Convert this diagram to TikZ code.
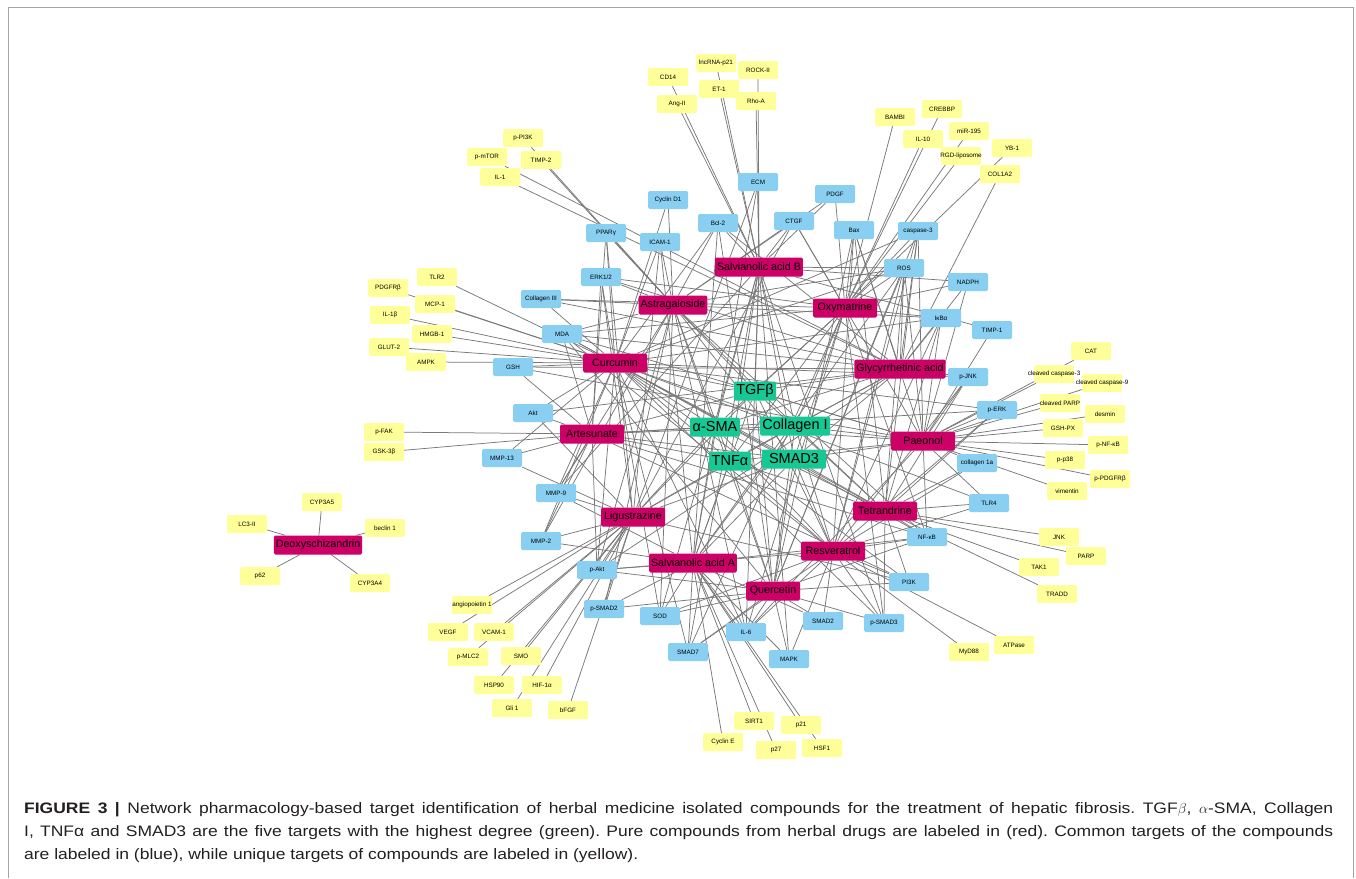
\documentclass[tikz,border=0pt]{standalone}
\usepackage{fontspec}
\setmainfont{Liberation Sans}
\newfontfamily\capfont{Liberation Sans}[FakeStretch=1.15]
\usetikzlibrary{backgrounds}

\definecolor{drugred}{RGB}{204,0,102}
\definecolor{hubgreen}{RGB}{22,200,148}
\definecolor{comblue}{RGB}{137,207,242}
\definecolor{uniyellow}{RGB}{255,255,153}
\definecolor{linkgray}{RGB}{120,120,120}
\definecolor{framegray}{RGB}{165,165,165}
\definecolor{captext}{RGB}{35,31,32}

\tikzset{
  tbox/.style={rounded corners=1.5pt, minimum width=40pt, minimum height=18pt, inner sep=1pt, font=\fontsize{6.3}{7}\selectfont},
  uni/.style={tbox, fill=uniyellow},
  com/.style={tbox, fill=comblue},
  drug/.style={rounded corners=1.5pt, fill=drugred, minimum width=64pt, minimum height=19pt, inner xsep=2pt, inner ysep=0pt, font=\fontsize{10.7}{12}\selectfont},
  hub/.style={rounded corners=1.5pt, fill=hubgreen, minimum height=19pt, inner xsep=2.5pt, inner ysep=0pt, font=\fontsize{14.5}{16}\selectfont},
  link/.style={color=linkgray, line width=0.75pt},
  captxt/.style={anchor=base west, inner sep=0pt, text=captext, font=\capfont\fontsize{15.2}{18}\selectfont\frenchspacing},
}

\begin{document}
\begin{tikzpicture}[x=1pt, y=-1pt]

		\useasboundingbox (0,0) rectangle (1356,878);

		% Ramka
		\draw[framegray, line width=1pt] (8,878) -- (8,7) -- (1353,7) -- (1353,878);

		% Zwiazki (czerwone)
		\node[drug] (salB) at (759,267) {Salvianolic acid B};
		\node[drug] (astr) at (673,305) {Astragaloside};
		\node[drug] (oxym) at (845,308) {Oxymatrine};
		\node[drug] (curc) at (615,363) {Curcumin};
		\node[drug] (glyc) at (900,369) {Glycyrrhetinic acid};
		\node[drug] (arte) at (592,434) {Artesunate};
		\node[drug] (paeo) at (923,441) {Paeonol};
		\node[drug] (tetr) at (885,511) {Tetrandrine};
		\node[drug] (ligu) at (633,517) {Ligustrazine};
		\node[drug] (resv) at (833,551) {Resveratrol};
		\node[drug] (salA) at (693,563) {Salvianolic acid A};
		\node[drug, minimum width=54pt] (quer) at (773,591) {Quercetin};
		\node[drug] (deox) at (318,545) {Deoxyschizandrin};

		% Cele o najwyzszym stopniu (zielone)
		\node[hub] (tgfb) at (755,391) {TGFβ};
		\node[hub] (asma) at (715,427) {α-SMA};
		\node[hub] (col1) at (795,426) {Collagen I};
		\node[hub] (tnfa) at (730,461) {TNFα};
		\node[hub, minimum width=64pt] (smad3) at (794,459) {SMAD3};

		% Wspolne cele (niebieskie)
		\node[com] (ecm) at (758,182) {ECM};
		\node[com] (cycd1) at (668,200) {Cyclin D1};
		\node[com] (pdgf) at (835,194) {PDGF};
		\node[com] (bcl2) at (718,223) {Bcl-2};
		\node[com] (ctgf) at (794,221) {CTGF};
		\node[com] (ppar) at (606,233) {PPARγ};
		\node[com] (icam) at (660,242) {ICAM-1};
		\node[com] (bax) at (854,230) {Bax};
		\node[com] (casp3) at (918,231) {caspase-3};
		\node[com] (ros) at (904,268) {ROS};
		\node[com] (erk) at (601,277) {ERK1/2};
		\node[com] (nadph) at (968,282) {NADPH};
		\node[com] (col3) at (541,299) {\makebox[38pt]{Collagen III}};
		\node[com] (mda) at (562,334) {MDA};
		\node[com] (ikba) at (941,318) {IκBα};
		\node[com] (timp1) at (992,330) {TIMP-1};
		\node[com] (gsh) at (513,367) {GSH};
		\node[com] (pjnk) at (968,377) {p-JNK};
		\node[com] (akt) at (533,413) {Akt};
		\node[com] (perk) at (997,410) {p-ERK};
		\node[com] (mmp13) at (502,458) {MMP-13};
		\node[com] (col1a) at (977,463) {collagen 1a};
		\node[com] (mmp9) at (556,493) {MMP-9};
		\node[com] (tlr4) at (989,503) {TLR4};
		\node[com] (mmp2) at (541,541) {MMP-2};
		\node[com] (nfkb) at (927,537) {NF-κB};
		\node[com] (pakt) at (597,570) {p-Akt};
		\node[com] (pi3k) at (909,582) {PI3K};
		\node[com] (psmad2) at (604,609) {p-SMAD2};
		\node[com] (sod) at (660,616) {SOD};
		\node[com] (smad2) at (823,621) {SMAD2};
		\node[com] (psmad3) at (884,623) {p-SMAD3};
		\node[com] (il6) at (746,632) {IL-6};
		\node[com] (smad7) at (688,652) {SMAD7};
		\node[com] (mapk) at (789,659) {MAPK};

		% Unikalne cele (zolte) - gora
		\node[uni] (cd14) at (668,77) {CD14};
		\node[uni] (lnc) at (716,63) {lncRNA-p21};
		\node[uni] (rock) at (758,70) {ROCK-II};
		\node[uni] (et1) at (719,89) {ET-1};
		\node[uni] (angii) at (677,104) {Ang-II};
		\node[uni] (rhoa) at (756,101) {Rho-A};
		\node[uni] (bambi) at (895,117) {BAMBI};
		\node[uni] (crebbp) at (942,109) {CREBBP};
		\node[uni] (il10) at (923,139) {IL-10};
		\node[uni] (mir) at (969,131) {miR-195};
		\node[uni] (rgd) at (961,156) {\makebox[38pt]{RGD-liposome}};
		\node[uni] (yb1) at (1012,148) {YB-1};
		\node[uni] (col1a2) at (1000,174) {COL1A2};
		\node[uni] (ppi3k) at (523,138) {p-PI3K};
		\node[uni] (pmtor) at (487,157) {p-mTOR};
		\node[uni] (timp2) at (541,160) {TIMP-2};
		\node[uni] (il1) at (500,177) {IL-1};

		% Unikalne cele - lewa strona
		\node[uni] (tlr2) at (437,277) {TLR2};
		\node[uni] (pdgfrb) at (388,288) {PDGFRβ};
		\node[uni] (mcp) at (435,304) {MCP-1};
		\node[uni] (il1b) at (390,315) {IL-1β};
		\node[uni] (hmgb) at (432,334) {HMGB-1};
		\node[uni] (glut) at (389,347) {GLUT-2};
		\node[uni] (ampk) at (426,362) {AMPK};
		\node[uni] (pfak) at (384,432) {p-FAK};
		\node[uni] (gsk) at (384,452) {GSK-3β};

		% Deoxyschizandrin
		\node[uni] (cyp3a5) at (322,502) {CYP3A5};
		\node[uni] (lc3) at (247,524) {LC3-II};
		\node[uni] (beclin) at (385,528) {beclin 1};
		\node[uni] (p62) at (260,576) {p62};
		\node[uni] (cyp3a4) at (370,583) {CYP3A4};

		% Unikalne cele - dol
		\node[uni] (angio) at (472,605) {\makebox[38pt]{angiopoietin 1}};
		\node[uni] (vegf) at (448,632) {VEGF};
		\node[uni] (vcam) at (494,632) {VCAM-1};
		\node[uni] (pmlc) at (468,657) {p-MLC2};
		\node[uni] (smo) at (521,656) {SMO};
		\node[uni] (hsp) at (494,685) {HSP90};
		\node[uni] (hif) at (542,685) {HIF-1α};
		\node[uni] (gli) at (512,708) {Gli 1};
		\node[uni] (bfgf) at (568,710) {bFGF};
		\node[uni] (sirt) at (754,721) {SIRT1};
		\node[uni] (p21) at (801,725) {p21};
		\node[uni] (cyce) at (723,742) {Cyclin E};
		\node[uni] (p27) at (776,750) {p27};
		\node[uni] (hsf) at (822,748) {HSF1};

		% Unikalne cele - prawa strona
		\node[uni] (cat) at (1091,351) {CAT};
		\node[uni] (cc3) at (1054,374) {\makebox[38pt]{cleaved caspase-3}};
		\node[uni] (cc9) at (1102,383) {\makebox[38pt]{cleaved caspase-9}};
		\node[uni] (cparp) at (1060,403) {\makebox[38pt]{cleaved PARP}};
		\node[uni] (desmin) at (1105,414) {desmin};
		\node[uni] (gshpx) at (1063,428) {GSH-PX};
		\node[uni] (pnfkb) at (1108,445) {p-NF-κB};
		\node[uni] (pp38) at (1065,460) {p-p38};
		\node[uni] (ppdgfrb) at (1110,479) {p-PDGFRβ};
		\node[uni] (vim) at (1067,491) {vimentin};
		\node[uni] (jnk) at (1059,537) {JNK};
		\node[uni] (parp) at (1086,556) {PARP};
		\node[uni] (tak1) at (1039,567) {TAK1};
		\node[uni] (tradd) at (1057,594) {TRADD};
		\node[uni] (myd) at (969,652) {MyD88};
		\node[uni] (atpase) at (1014,645) {ATPase};

		% Polaczenia (pod wezlami)
		\begin{scope}[on background layer]
		\path[link] (salB) edge (ecm) edge (bcl2) edge (ctgf) edge (pdgf) edge (ros) edge (nadph) edge (timp1) edge (tgfb) edge (asma) edge (col1) edge (tnfa) edge (smad3) edge (smad7) edge (il6) edge (mapk) edge (psmad3) edge (mmp9) edge (sod) edge (cd14) edge (angii) edge (lnc) edge (et1) edge (rock) edge (rhoa);
		\path[link] (astr) edge (ppar) edge (icam) edge (cycd1) edge (erk) edge (col3) edge (mda) edge (bcl2) edge (ctgf) edge (pdgf) edge (tgfb) edge (asma) edge (col1) edge (tnfa) edge (smad3) edge (pakt) edge (mmp9) edge (mmp2) edge (sod) edge (ros) edge (nfkb) edge (il6) edge (psmad2) edge (ikba) edge (ppi3k) edge (timp2);
		\path[link] (oxym) edge (bax) edge (casp3) edge (pdgf) edge (ctgf) edge (ros) edge (ikba) edge (nadph) edge (col3) edge (erk) edge (mda) edge (tgfb) edge (asma) edge (col1) edge (tnfa) edge (smad3) edge (nfkb) edge (psmad3) edge (smad7) edge (il6) edge (bambi) edge (crebbp) edge (il10) edge (mir) edge (rgd) edge (yb1);
		\path[link] (curc) edge (ppar) edge (erk) edge (mda) edge (gsh) edge (akt) edge (col3) edge (bcl2) edge (icam) edge (cycd1) edge (tgfb) edge (asma) edge (col1) edge (tnfa) edge (smad3) edge (mmp2) edge (mmp9) edge (mmp13) edge (nfkb) edge (pi3k) edge (pakt) edge (il6) edge (sod) edge (casp3) edge (ikba) edge (ros) edge (tlr4) edge (perk) edge (pjnk) edge (psmad3) edge (smad7) edge (tlr2) edge (pdgfrb) edge (mcp) edge (il1b) edge (hmgb) edge (glut) edge (ampk);
		\path[link] (glyc) edge (ikba) edge (pjnk) edge (nadph) edge (ros) edge (casp3) edge (bax) edge (bcl2) edge (col3) edge (erk) edge (mda) edge (gsh) edge (akt) edge (pakt) edge (tgfb) edge (asma) edge (col1) edge (tnfa) edge (smad3) edge (il1) edge (pmtor) edge (col1a2);
		\path[link] (arte) edge (akt) edge (mmp13) edge (mmp9) edge (mmp2) edge (erk) edge (ppar) edge (mda) edge (gsh) edge (tgfb) edge (asma) edge (col1) edge (tnfa) edge (smad3) edge (nfkb) edge (pi3k) edge (perk) edge (pakt) edge (pfak) edge (gsk);
		\path[link] (paeo) edge (perk) edge (col1a) edge (tlr4) edge (pjnk) edge (timp1) edge (ikba) edge (nadph) edge (ros) edge (casp3) edge (bax) edge (ctgf) edge (mda) edge (gsh) edge (il6) edge (nfkb) edge (tgfb) edge (asma) edge (col1) edge (tnfa) edge (smad3) edge (cat) edge (cc3) edge (cc9) edge (cparp) edge (desmin) edge (gshpx) edge (pnfkb) edge (pp38) edge (ppdgfrb) edge (vim);
		\path[link] (tetr) edge (nfkb) edge (tlr4) edge (col1a) edge (pi3k) edge (psmad3) edge (ikba) edge (pjnk) edge (casp3) edge (bax) edge (mda) edge (perk) edge (ros) edge (tgfb) edge (asma) edge (col1) edge (tnfa) edge (smad3) edge (jnk) edge (parp) edge (tak1) edge (tradd);
		\path[link] (ligu) edge (mmp2) edge (mmp9) edge (mmp13) edge (akt) edge (pakt) edge (psmad2) edge (pi3k) edge (erk) edge (ppar) edge (icam) edge (ecm) edge (ctgf) edge (tgfb) edge (asma) edge (col1) edge (tnfa) edge (smad3) edge (angio) edge (vegf) edge (vcam) edge (pmlc) edge (smo) edge (hsp) edge (hif) edge (gli) edge (bfgf);
		\path[link] (resv) edge (nfkb) edge (pi3k) edge (smad2) edge (psmad3) edge (smad7) edge (tlr4) edge (col1a) edge (pakt) edge (sod) edge (perk) edge (mapk) edge (il6) edge (ikba) edge (ros) edge (mda) edge (casp3) edge (bax) edge (pjnk) edge (tgfb) edge (asma) edge (col1) edge (tnfa) edge (smad3) edge (myd) edge (atpase);
		\path[link] (salA) edge (sod) edge (smad7) edge (il6) edge (psmad2) edge (pakt) edge (mmp2) edge (mmp9) edge (icam) edge (bcl2) edge (ecm) edge (ros) edge (nfkb) edge (smad2) edge (mapk) edge (tgfb) edge (asma) edge (col1) edge (tnfa) edge (smad3) edge (cyce) edge (sirt) edge (p27) edge (p21) edge (hsf);
		\path[link] (quer) edge (il6) edge (mapk) edge (smad7) edge (psmad2) edge (sod) edge (smad2) edge (pi3k) edge (psmad3) edge (nfkb) edge (pakt) edge (bax) edge (bcl2) edge (casp3) edge (mda) edge (ros) edge (tgfb) edge (asma) edge (col1) edge (tnfa) edge (smad3);
		\path[link] (deox) edge (cyp3a5) edge (lc3) edge (beclin) edge (p62) edge (cyp3a4);
		\end{scope}

		% Podpis
		\node[captxt] (capA) at (24,813) {\hbox to 1309pt{\textbf{FIGURE 3 |} Network pharmacology-based target identification of herbal medicine isolated compounds for the treatment of hepatic fibrosis. TGF$\beta$, $\alpha$-SMA, Collagen}};
		\node[captxt] (capB) at (24,836) {\hbox to 1309pt{I, TNFα and SMAD3 are the five targets with the highest degree (green). Pure compounds from herbal drugs are labeled in (red). Common targets of the compounds}};
		\node[captxt] (capC) at (24,859) {are labeled in (blue), while unique targets of compounds are labeled in (yellow).};

	\end{tikzpicture}
\end{document}
